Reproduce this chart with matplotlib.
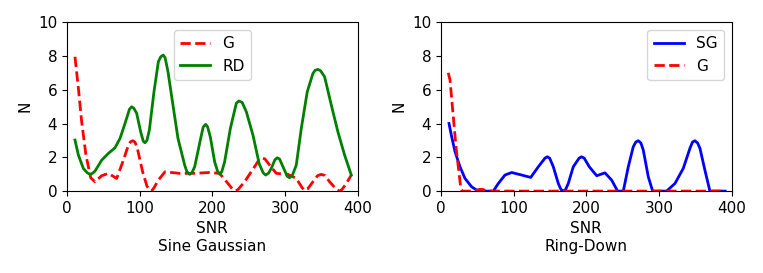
import matplotlib
matplotlib.use("Agg")
import matplotlib.pyplot as plt

# Sine Gaussian panel
sg_rd_snr = [11, 15.7, 22.5, 28, 31.7, 35, 38.5, 47.7, 56.9, 66, 73, 79.8, 86, 89,
             92, 95.9, 101.4, 105, 107.3, 110, 113.3, 119.7, 125.7, 129, 132.3,
             135, 139, 145.8, 152.7, 161.9, 165, 168.8, 172, 175.7, 184.9, 187.5,
             190.8, 193.5, 197.2, 203.2, 207, 210, 213, 216.9, 224.8, 233, 236.6,
             241, 246.8, 255.9, 264.6, 270, 273.3, 277, 281.1, 286, 289.4, 292.5,
             297.2, 303, 306.3, 310, 315.5, 322.4, 330.6, 338.4, 341.5, 345.3,
             349, 354.5, 363.7, 372.8, 382, 391.2]
sg_rd_n = [3.02, 2.13, 1.34, 1.08, 1.0, 1.05, 1.18, 1.83, 2.23, 2.56, 3.12, 4.0, 4.85, 4.99,
           4.9, 4.6, 3.5, 2.95, 2.86, 3.0, 3.6, 5.88, 7.65, 7.95, 8.05,
           7.9, 7.06, 5.09, 3.12, 1.54, 1.15, 0.99, 1.1, 1.44, 3.31, 3.8,
           3.95, 3.8, 3.21, 1.73, 1.2, 1.0, 1.15, 1.73, 3.71, 5.2, 5.33,
           5.25, 4.69, 3.31, 1.6, 1.08, 0.95, 1.05, 1.34, 1.85, 1.97, 1.9,
           1.44, 0.88, 0.79, 0.92, 1.54, 3.71, 5.88, 6.96, 7.15, 7.2,
           7.12, 6.76, 5.09, 3.5, 2.13, 0.95]

sg_g_snr = [11, 15.7, 20.2, 26.1, 32.6, 38.5, 47.7, 56.9, 68.4, 77.6, 84.5, 87.5,
            90.4, 93.5, 96.8, 104.1, 110, 113.5, 116.5, 120, 125.7, 134.8, 155,
            173, 196.3, 210, 221.5, 228.5, 232, 235.5, 244.4, 260.5, 264, 268.2,
            272.5, 278.8, 288, 304, 315.5, 323.5, 327, 331, 338.4, 345, 350, 355,
            361.4, 371.5, 375, 378.5, 384.3, 391.2]
sg_g_n = [7.95, 6.08, 4.1, 2.13, 0.79, 0.55, 0.91, 1.05, 0.75, 1.83, 2.72, 2.92,
          2.98, 2.9, 2.53, 1.14, 0.3, 0.05, 0.0, 0.22, 0.65, 1.14, 1.05,
          1.05, 1.1, 1.05, 0.45, 0.08, 0.0, 0.1, 0.55, 1.6, 1.85, 1.97,
          1.9, 1.54, 1.05, 0.99, 0.75, 0.2, 0.04, 0.12, 0.55, 0.92, 0.99, 0.92,
          0.55, 0.07, 0.0, 0.1, 0.45, 0.95]

# Ring-Down panel
rd_sg_snr = [11, 14.7, 19.3, 26.1, 33, 42.2, 51.3, 72, 78.8, 88, 97.2, 111,
             123.4, 133.9, 143, 146.2, 149.5, 154.5, 161.4, 165, 168.2, 171.5,
             175.1, 182, 190, 193.5, 197, 204, 214.2, 225.6, 234.8, 243, 250.8,
             257.7, 264.5, 268, 271.4, 275, 278.3, 285.2, 291.2, 310.4, 321.9,
             333.3, 342.5, 346, 349.4, 353, 356.3, 363.1, 370, 391]
rd_sg_n = [4.0, 3.21, 2.33, 1.44, 0.75, 0.25, 0.0, 0.0, 0.45, 0.95, 1.1, 0.95,
           0.81, 1.44, 1.95, 2.03, 1.95, 1.44, 0.45, 0.1, 0.0, 0.1,
           0.45, 1.44, 1.95, 2.03, 1.95, 1.44, 0.91, 1.08, 0.65, 0.0, 0.0,
           1.44, 2.62, 2.9, 2.98, 2.85, 2.43, 0.85, 0.0, 0.0, 0.45,
           1.34, 2.53, 2.9, 2.98, 2.85, 2.53, 1.24, 0.0, 0.0]

rd_g_snr = [10, 12.4, 20.6, 27, 29, 45, 53, 57, 65, 391]
rd_g_n = [7.0, 6.57, 2.62, 0.25, 0.0, 0.0, 0.1, 0.1, 0.0, 0.0]

fig = plt.figure(figsize=(7.63, 2.73), dpi=100)
ax1 = fig.add_axes([0.0878, 0.300, 0.381, 0.619])
ax2 = fig.add_axes([0.578, 0.300, 0.381, 0.619])

ax1.plot(sg_g_snr, sg_g_n, 'r--', lw=2, label='G')
ax1.plot(sg_rd_snr, sg_rd_n, color='green', lw=2, label='RD')
ax1.set_xlabel('SNR\nSine Gaussian')
ax1.legend(loc='upper center', fontsize=11)

ax2.plot(rd_sg_snr, rd_sg_n, 'b-', lw=2, label='SG')
ax2.plot(rd_g_snr, rd_g_n, 'r--', lw=2, label='G')
ax2.set_xlabel('SNR\nRing-Down')
ax2.legend(loc='upper right', fontsize=11)

for ax in (ax1, ax2):
    ax.set_xlim(0, 400)
    ax.set_ylim(0, 10)
    ax.set_xticks([0, 100, 200, 300, 400])
    ax.set_yticks([0, 2, 4, 6, 8, 10])
    ax.set_ylabel('N')
    ax.tick_params(labelsize=11)
    ax.xaxis.label.set_size(11)
    ax.yaxis.label.set_size(11)

fig.savefig('out.png', dpi=100)
